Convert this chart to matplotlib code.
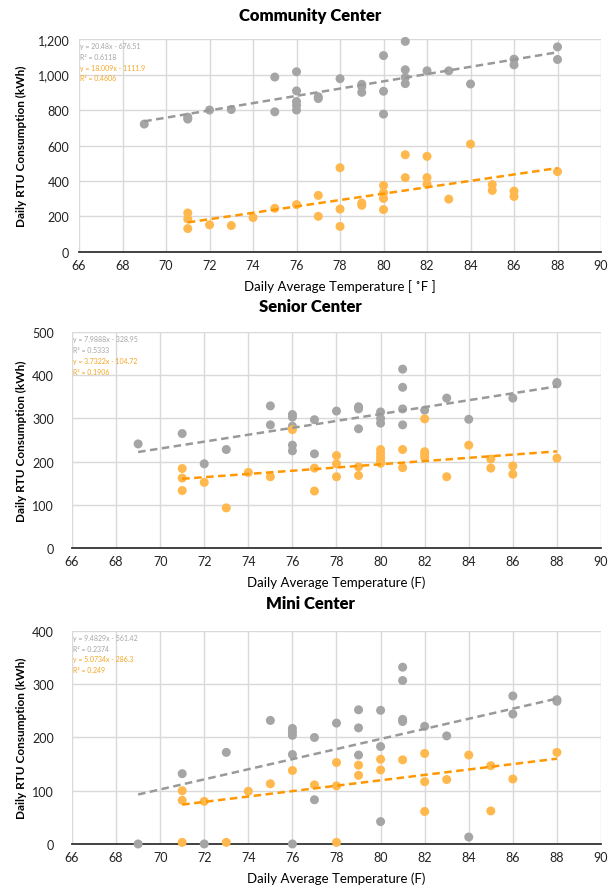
import numpy as np
import matplotlib
matplotlib.use('Agg')
import matplotlib.pyplot as plt
from matplotlib.ticker import FuncFormatter

plt.rcParams['font.family'] = ['Lato', 'DejaVu Sans']

# Community Center
cc_gray_x = [69, 71, 71, 72, 73, 75, 75, 76, 76, 76, 76, 76, 77, 77, 78, 79, 79, 79,
             80, 80, 80, 81, 81, 81, 81, 82, 83, 84, 86, 86, 88, 88]
cc_gray_y = [721, 749, 760, 800, 803, 986, 790, 1016, 908, 848, 826, 800, 875, 865, 977, 945, 932, 900,
             1107, 906, 777, 1187, 1027, 984, 949, 1021, 1021, 947, 1087, 1055, 1156, 1085]
cc_orange_x = [71, 71, 71, 72, 73, 74, 75, 76, 77, 77, 78, 78, 78, 79, 79, 80, 80, 80, 80,
               81, 81, 82, 82, 82, 83, 84, 85, 85, 86, 86, 88]
cc_orange_y = [220, 186, 132, 153, 149, 194, 246, 267, 319, 201, 475, 242, 144, 276, 263, 375, 334, 302, 239,
               548, 419, 539, 419, 382, 298, 608, 380, 347, 343, 313, 453]
cc_fit = [(20.48, -676.51, 'y = 20.48x - 676.51', 'R² = 0.6118'),
          (18.009, -1111.9, 'y = 18.009x - 1111.9', 'R² = 0.4606')]

# Senior Center
sc_gray_x = [69, 71, 72, 73, 75, 75, 76, 76, 76, 76, 76, 77, 77, 78, 79, 79, 79, 80, 80, 80,
             81, 81, 81, 81, 82, 83, 84, 86, 88, 88]
sc_gray_y = [241, 265, 195, 228, 329, 285, 309, 303, 282, 238, 225, 297, 218, 317, 327, 322, 276, 315, 300, 289,
             414, 372, 322, 285, 319, 347, 298, 347, 383, 380]
sc_orange_x = [71, 71, 71, 72, 73, 74, 75, 76, 77, 77, 78, 78, 78, 79, 79, 80, 80, 80, 80, 80,
               81, 81, 82, 82, 82, 82, 83, 84, 85, 85, 86, 86, 88]
sc_orange_y = [184, 162, 133, 152, 93, 175, 165, 274, 185, 132, 214, 195, 165, 188, 168, 228, 219, 210, 202, 196,
               228, 186, 299, 223, 217, 210, 165, 238, 206, 185, 190, 171, 208]
sc_fit = [(7.9888, -328.95, 'y = 7.9888x - 328.95', 'R² = 0.5333'),
          (3.7322, -104.72, 'y = 3.7322x - 104.72', 'R² = 0.1906')]

# Mini Center
mc_gray_x = [69, 71, 72, 73, 75, 76, 76, 76, 76, 76, 77, 77, 78, 79, 79, 79, 80, 80, 80,
             81, 81, 81, 81, 82, 83, 84, 86, 86, 88, 88]
mc_gray_y = [0, 132, 0, 172, 232, 217, 210, 204, 168, 0, 200, 83, 227, 252, 218, 167, 251, 183, 42,
             332, 307, 234, 230, 221, 203, 13, 278, 244, 268, 271]
mc_orange_x = [71, 71, 71, 72, 73, 74, 75, 76, 77, 78, 78, 78, 79, 79, 80, 80, 81,
               82, 82, 82, 83, 84, 85, 85, 86, 88]
mc_orange_y = [100, 82, 3, 80, 3, 99, 113, 138, 111, 153, 109, 3, 148, 129, 159, 139, 158,
               170, 117, 61, 121, 167, 147, 62, 122, 172]
mc_fit = [(9.4829, -561.42, 'y = 9.4829x - 561.42', 'R² = 0.2374'),
          (5.0734, -286.3, 'y = 5.0734x - 286.3', 'R² = 0.249')]

titles = ['Community Center', 'Senior Center', 'Mini Center']
xlabels = ['Daily Average Temperature [ ˚F ]', 'Daily Average Temperature (F)', 'Daily Average Temperature (F)']
yticks = [np.arange(0, 1201, 200), np.arange(0, 501, 100), np.arange(0, 401, 100)]

gray = '#A5A5A5'
orange = '#FFB84D'
gray_line = '#999999'
orange_line = '#FF9800'

fig = plt.figure(figsize=(6.08, 8.87), dpi=100)
# [left, bottom, width, height] in figure fractions
boxes = [[0.130, 0.7148, 0.8585, 0.2400],
         [0.1184, 0.3810, 0.8701, 0.2436],
         [0.1184, 0.0474, 0.8701, 0.2401]]
title_y = [0.982, 0.654, 0.319]

panels = [(cc_gray_x, cc_gray_y, cc_orange_x, cc_orange_y, cc_fit),
          (sc_gray_x, sc_gray_y, sc_orange_x, sc_orange_y, sc_fit),
          (mc_gray_x, mc_gray_y, mc_orange_x, mc_orange_y, mc_fit)]

for i, (gx, gy, ox, oy, fit) in enumerate(panels):
    ax = fig.add_axes(boxes[i])
    ax.scatter(gx, gy, s=42, color=gray, edgecolors='none', zorder=3, clip_on=False)
    ax.scatter(ox, oy, s=42, color=orange, edgecolors='none', zorder=3, clip_on=False)

    # trendlines (Excel linear fit)
    xs = np.array([min(gx), max(gx)])
    ax.plot(xs, fit[0][0] * xs + fit[0][1], color=gray_line, lw=1.8, ls=(0, (3, 1.8)), zorder=4)
    xs = np.array([min(ox), max(ox)])
    ax.plot(xs, fit[1][0] * xs + fit[1][1], color=orange_line, lw=1.8, ls=(0, (3, 1.8)), zorder=4)

    ax.set_xlim(66, 90)
    ax.set_ylim(yticks[i][0], yticks[i][-1])
    ax.set_xticks(np.arange(66, 91, 2))
    ax.set_yticks(yticks[i])
    ax.yaxis.set_major_formatter(FuncFormatter(lambda v, p: f'{int(v):,}'))
    ax.grid(color='#D9D9D9', linewidth=1.0, zorder=0)
    ax.set_axisbelow(True)
    for side in ['top', 'right', 'left']:
        ax.spines[side].set_visible(False)
    ax.spines['bottom'].set_color('#333333')
    ax.spines['bottom'].set_linewidth(1.3)
    ax.tick_params(length=0, labelsize=9, colors='#222222')
    ax.tick_params(axis='x', pad=5)
    ax.tick_params(axis='y', pad=7 if i == 0 else 13)
    ax.set_xlabel(xlabels[i], fontsize=9.5, labelpad=6)
    ax.set_ylabel('Daily RTU Consumption (kWh)', fontsize=8.5, fontweight='bold')
    ax.yaxis.set_label_coords(-0.0996 if i == 0 else -0.085, 0.5)

    # equation labels
    ax.text(0.002, 0.985, fit[0][2], transform=ax.transAxes, fontsize=5, color=gray, va='top')
    ax.text(0.002, 0.935, fit[0][3], transform=ax.transAxes, fontsize=5, color=gray, va='top')
    ax.text(0.002, 0.885, fit[1][2], transform=ax.transAxes, fontsize=5, color='#F5A623', va='top')
    ax.text(0.002, 0.835, fit[1][3], transform=ax.transAxes, fontsize=5, color='#F5A623', va='top')

    fig.text(0.51, title_y[i], titles[i], ha='center', va='center', fontsize=12, fontweight='heavy')

fig.savefig('out.png', dpi=100)
